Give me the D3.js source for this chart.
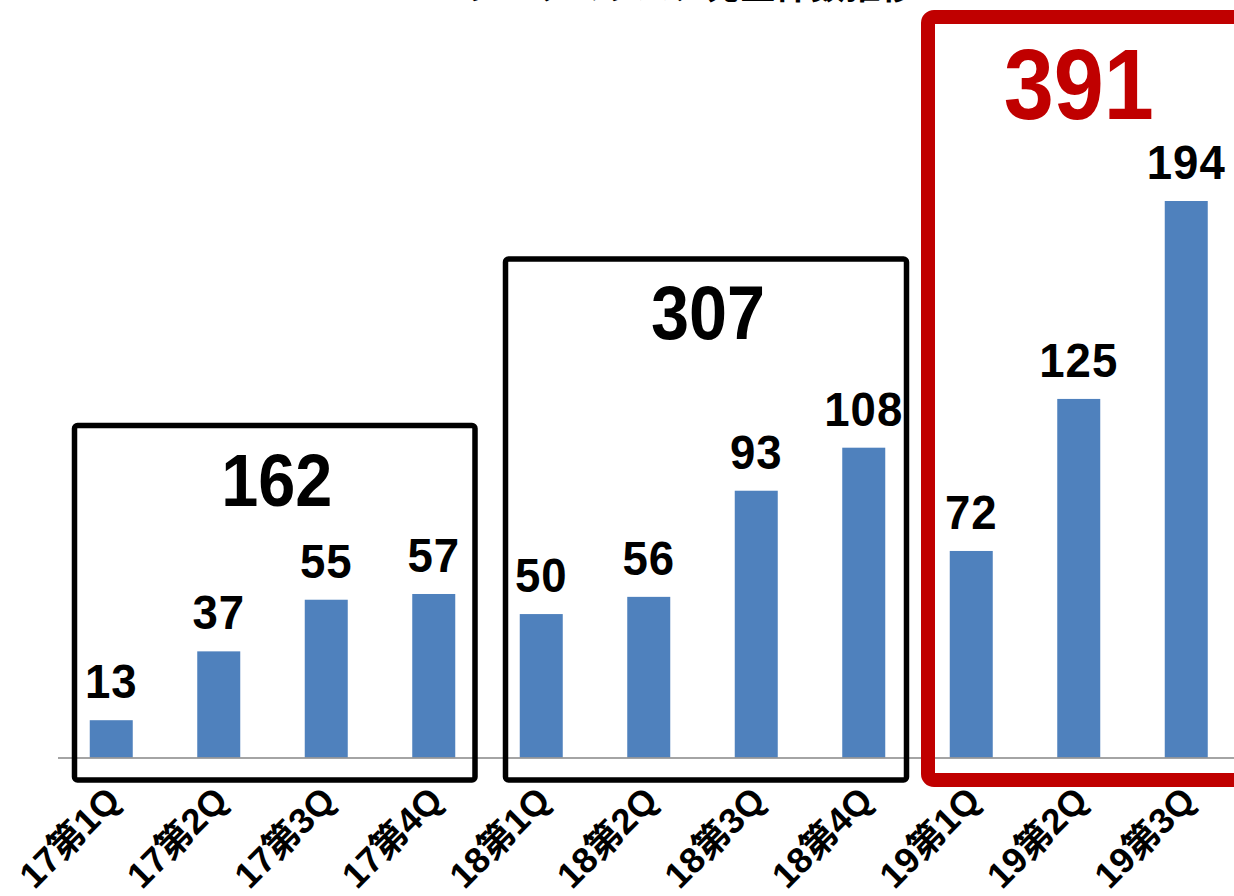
<!DOCTYPE html>
<html>
<head>
<meta charset="utf-8">
<script src="https://cdn.jsdelivr.net/npm/d3@7"></script>
<style>
  html, body { margin: 0; padding: 0; background: #fff; }
  svg { display: block; }
</style>
</head>
<body>
<svg id="chart" width="1234" height="896"></svg>
<script>
// ---- data ----
const title = "ランサムウェア発生件数推移";
const categories = ["17第1Q", "17第2Q", "17第3Q", "17第4Q", "18第1Q", "18第2Q", "18第3Q", "18第4Q", "19第1Q", "19第2Q", "19第3Q"];
const values = [13, 37, 55, 57, 50, 56, 93, 108, 72, 125, 194];
const groupTotals = [162, 307, 391];
const groupFirst = ["17第1Q", "18第1Q", "19第1Q"];
const groupLast = ["17第4Q", "18第4Q", "19第3Q"];

// ---- layout ----
const W = 1234, H = 896;
const svg = d3.select("#chart");
const FONT = "'Liberation Sans', Arial, 'Noto Sans CJK JP', sans-serif";

const plotLeft = 57.5, step = 107.5, baseY = 757.5;
const x = d3.scaleBand()
  .domain(categories)
  .range([plotLeft, plotLeft + step * categories.length])
  .paddingInner(0.6)
  .paddingOuter(0.3);
const y = d3.scaleLinear().domain([0, 194]).range([baseY, 201]);

// title (cut off at the top of the picture, as in the reference)
svg.append("text")
  .attr("x", 688).attr("y", -1)
  .attr("text-anchor", "middle")
  .attr("font-family", FONT)
  .attr("font-weight", "bold")
  .attr("font-size", 35)
  .attr("fill", "#000")
  .text(title);

// bars
svg.append("g").selectAll("rect")
  .data(values)
  .join("rect")
  .attr("x", (d, i) => x(categories[i]))
  .attr("width", x.bandwidth())
  .attr("y", d => y(d))
  .attr("height", d => y(0) - y(d))
  .attr("fill", "#4F81BD");

// value labels
svg.append("g").selectAll("text")
  .data(values)
  .join("text")
  .attr("transform", (d, i) => `translate(${x(categories[i]) + x.bandwidth() / 2},${y(d) - 22}) scale(0.95,1)`)
  .attr("text-anchor", "middle")
  .attr("font-family", FONT)
  .attr("font-weight", "bold")
  .attr("font-size", 48)
  .attr("letter-spacing", 1)
  .attr("fill", "#000")
  .text(d => d);

// x axis (gray baseline + rotated labels)
const axis = svg.append("g")
  .attr("transform", `translate(0,${baseY})`)
  .call(d3.axisBottom(x).tickSize(0).tickSizeOuter(0).tickPadding(0));
axis.select(".domain").attr("stroke", "#868686").attr("stroke-width", 1.5);
axis.selectAll(".tick text")
  .attr("font-family", FONT)
  .attr("font-weight", "bold")
  .attr("font-size", 36)
  .attr("fill", "#000")
  .attr("text-anchor", "end")
  .attr("dy", null)
  .attr("y", null)
  .attr("transform", "translate(11,45) rotate(-45)");

// group boxes
const boxTop = [425.5, 259, 17];
const boxLeftInset = [17, 18, 10.5];
const boxRightInset = [12.5, 11, -20];
const boxColors = ["#000000", "#000000", "#C00000"];
const boxStroke = [5.5, 5.5, 14];
const totalSize = [74, 76, 100];
const totalOffset = [80, 80, 102];
const boxBottom = 780;

groupTotals.forEach((t, g) => {
  const i0 = categories.indexOf(groupFirst[g]);
  const i1 = categories.indexOf(groupLast[g]);
  const bandStart = x(categories[i0]) - x.step() * x.paddingOuter();
  const bandEnd = x(categories[i1]) + x.bandwidth() + x.step() * x.paddingOuter();
  const left = bandStart + boxLeftInset[g];
  const right = bandEnd - boxRightInset[g];
  svg.append("rect")
    .attr("x", left).attr("y", boxTop[g])
    .attr("width", right - left).attr("height", boxBottom - boxTop[g])
    .attr("rx", g === 2 ? 6 : 3)
    .attr("fill", "none")
    .attr("stroke", boxColors[g])
    .attr("stroke-width", boxStroke[g]);
  const cx = (x(categories[i0]) + x(categories[i1]) + x.bandwidth()) / 2;
  const tx = g === 2 ? cx : (left + right) / 2 + 2;
  svg.append("text")
    .attr("transform", `translate(${tx},${boxTop[g] + totalOffset[g]}) scale(0.9,1)`)
    .attr("text-anchor", "middle")
    .attr("font-family", FONT)
    .attr("font-weight", "bold")
    .attr("font-size", totalSize[g])
    .attr("fill", g === 2 ? "#C00000" : "#000")
    .text(t);
});
</script>
</body>
</html>
